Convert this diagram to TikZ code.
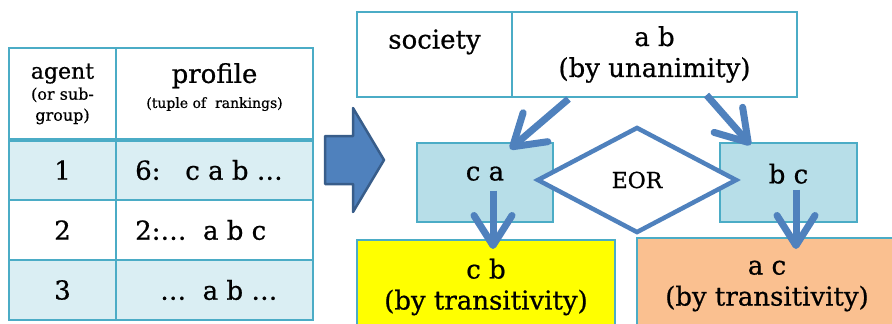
\documentclass[tikz,border=0pt]{standalone}
\usepackage{fontspec}
\setmainfont{DejaVu Serif}[UprightFeatures={FakeBold=0.7}]
\usetikzlibrary{arrows.meta,shapes.geometric}

\definecolor{lineC}{HTML}{4BACC6}
\definecolor{rowC}{HTML}{DAEEF3}
\definecolor{boxC}{HTML}{B7DEE8}
\definecolor{arrC}{HTML}{4F81BD}
\definecolor{arrD}{HTML}{385D8A}
\definecolor{orgC}{HTML}{FAC090}
\definecolor{yelC}{HTML}{FFFF00}

\begin{document}
\begin{tikzpicture}[
    x=1pt, y=-1pt,
    cell/.style={draw=lineC, line width=2.5pt, inner sep=0pt, outer sep=0pt, anchor=north west},
    big/.style={font=\fontsize{26}{31}\selectfont},
    box/.style={draw=lineC, line width=2.5pt, inner sep=0pt, outer sep=0pt, align=center, big},
    flow/.style={arrC, line width=7pt, -{Straight Barb[length=30pt, width=38pt, round]}},
]
\useasboundingbox (0,0) rectangle (892,324);

% agent / profile table
\node[cell, minimum width=107pt, minimum height=92pt, align=center,
      font=\fontsize{16}{21}\selectfont] (hd1) at (9,48)
    {{\fontsize{22}{24}\selectfont agent}\\(or sub-\\group)};
\node[cell, minimum width=197pt, minimum height=92pt, align=center,
      font=\fontsize{14}{25}\selectfont] (hd2) at (116,48)
    {{\fontsize{26}{28}\selectfont profile}\\(tuple of\ \ rankings)\\[-8pt]~};

\foreach \n/\y/\f/\s/\p in {1/140/rowC/19/{6:\ \ \ c a b …},
                            2/200/white/19/{2:…\ \ a b c},
                            3/260/rowC/44/{…\ \ a b …}} {
    \node[cell, fill=\f, minimum width=107pt, minimum height=60pt, big] (ag\n) at (9,\y) {\n};
    \node[cell, fill=\f, minimum width=197pt, minimum height=60pt] (pr\n) at (116,\y) {};
    \node[big, anchor=west, inner sep=0pt] (rk\n) at ([xshift=\s]pr\n.west) {\p};
}
\draw[lineC, line width=4pt] (hd1.south west) -- (hd2.south east);

% big arrow
\draw[fill=arrC, draw=arrD, line width=2.5pt, line join=round]
    (325,136) -- (353,136) -- (353,108) -- (384,160)
    -- (353,212) -- (353,184) -- (325,184) -- cycle;

% society row
\node[cell, minimum width=155pt, minimum height=85pt, big, align=center] (soc) at (357,12)
    {society\\~};
\node[cell, minimum width=285pt, minimum height=85pt, big, align=center] (ab) at (512,12)
    {a b\\(by unanimity)};

% cases
\node[box, fill=boxC, minimum width=136pt, minimum height=79pt, text depth=18pt] (ca) at (485,182.5) {c a};
\node[box, fill=boxC, minimum width=137pt, minimum height=79pt, text depth=18pt] (bc) at (788.5,182.5) {b c};
\node[box, fill=yelC, minimum width=258pt, minimum height=94pt] (cb) at (486,287)
    {c b\\(by transitivity)};
\node[box, fill=orgC, minimum width=260pt, minimum height=96pt] (ac) at (767,286)
    {a c\\(by transitivity)};

\node[diamond, draw=arrC, fill=white, line width=4.5pt, minimum width=200pt,
      minimum height=106pt, inner sep=0pt, font=\fontsize{22}{24}\selectfont] (eor) at (637,180) {EOR};

% arrows
\draw[flow] ([xshift=-86pt, yshift=-2pt]ab.south) -- ([xshift=25pt, yshift=-6pt]ca.north);
\draw[flow] ([xshift=52pt, yshift=2pt]ab.south) -- ([xshift=-38pt, yshift=-2pt]bc.north);
\draw[flow] ([xshift=8pt, yshift=-8pt]ca.center) -- ([xshift=7pt, yshift=-9pt]cb.north);
\draw[flow] ([xshift=7.5pt, yshift=-7pt]bc.center) -- ([xshift=29pt, yshift=-11pt]ac.north);

\end{tikzpicture}
\end{document}
